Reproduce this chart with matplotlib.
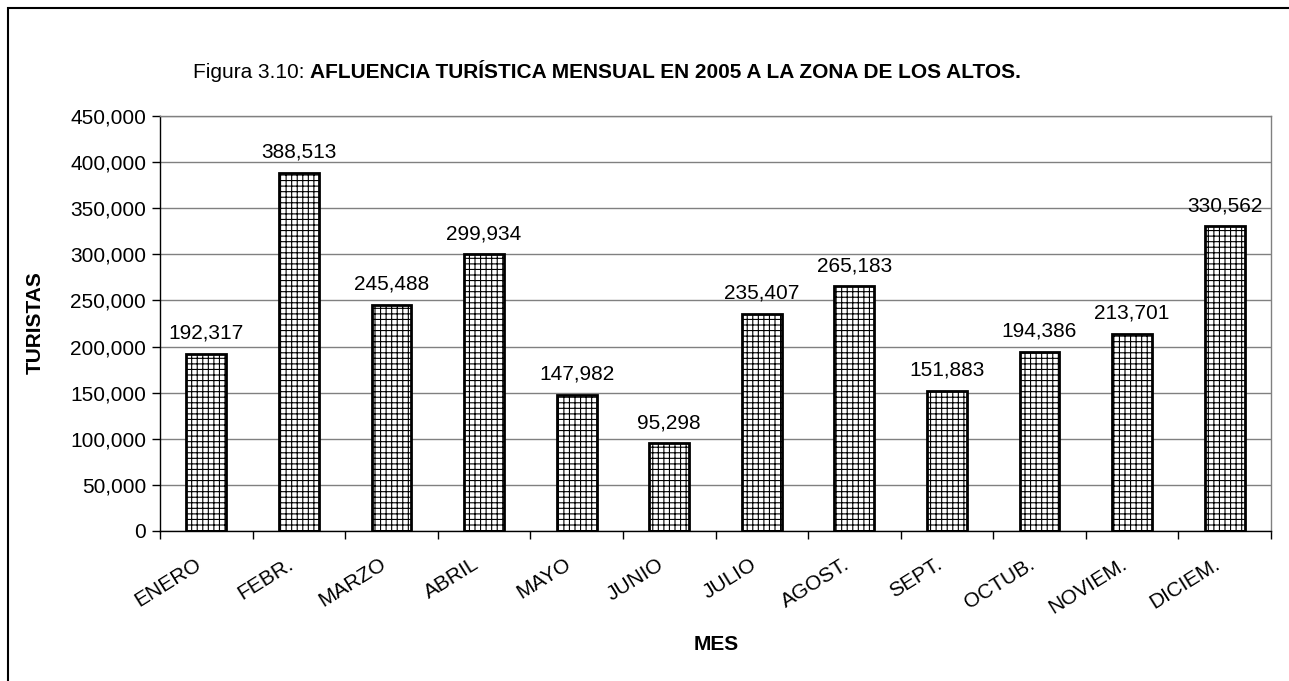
import matplotlib
matplotlib.use("Agg")
import matplotlib.pyplot as plt
from matplotlib.patches import Rectangle
from matplotlib.ticker import FuncFormatter
from matplotlib.transforms import ScaledTranslation
import numpy as np

months = ["ENERO", "FEBR.", "MARZO", "ABRIL", "MAYO", "JUNIO", "JULIO",
          "AGOST.", "SEPT.", "OCTUB.", "NOVIEM.", "DICIEM."]
tourists = [192317, 388513, 245488, 299934, 147982, 95298, 235407,
            265183, 151883, 194386, 213701, 330562]
y_ticks = [0, 50000, 100000, 150000, 200000, 250000, 300000, 350000, 400000, 450000]

plt.rcParams['font.family'] = ['Liberation Sans', 'DejaVu Sans']
plt.rcParams['hatch.linewidth'] = 0.8

FS = 15
W, H = 1289, 681
fig = plt.figure(figsize=(W / 100, H / 100), dpi=100)
L, R, T, B = 160, 1271, 116, 531
ax = fig.add_axes([L / W, 1 - B / H, (R - L) / W, (B - T) / H])

x = np.arange(len(months))
ax.bar(x, tourists, width=0.43, color='white', edgecolor='black',
       linewidth=2, hatch='+++', zorder=3)
for xi, v in zip(x, tourists):
    ax.annotate(f"{v:,}", (xi, v), xytext=(0, 8), textcoords='offset points',
                ha='center', va='bottom', fontsize=FS)

ax.set_xlim(-0.5, len(months) - 0.5)
ax.set_ylim(0, 450000)
ax.set_yticks(y_ticks)
ax.yaxis.set_major_formatter(FuncFormatter(lambda v, p: f"{int(v):,}"))
ax.tick_params(axis='y', direction='out', length=6, width=1, labelsize=FS, pad=4)
ax.grid(axis='y', color='#808080', linewidth=1, zorder=0)

ax.set_xticks(x)
ax.set_xticklabels(months, rotation=32, ha='right', rotation_mode='anchor', fontsize=FS)
ax.tick_params(axis='x', which='major', length=0, pad=17)
ax.set_xticks(np.arange(len(months) + 1) - 0.5, minor=True)
ax.tick_params(axis='x', which='minor', direction='out', length=6, width=1)
shift = ScaledTranslation(-12 / 100, 0, fig.dpi_scale_trans)
for lbl in ax.get_xticklabels():
    lbl.set_transform(lbl.get_transform() + shift)

for s in ['top', 'right']:
    ax.spines[s].set_color('#808080')
    ax.spines[s].set_linewidth(1)
for s in ['left', 'bottom']:
    ax.spines[s].set_color('black')
    ax.spines[s].set_linewidth(1)

ax.set_ylabel("TURISTAS", fontsize=FS, fontweight='bold')
ax.yaxis.set_label_coords(-(L - 45) / (R - L), (B - 323) / (B - T))
ax.set_xlabel("MES", fontsize=FS, fontweight='bold')
ax.xaxis.set_label_coords((716 - L) / (R - L), -(645 - B) / (B - T))
ax.xaxis.label.set_va('center')

t1 = fig.text(193 / W, 1 - 72 / H, "Figura 3.10: ", ha='left', va='center', fontsize=FS)
ax.annotate("AFLUENCIA TURÍSTICA MENSUAL EN 2005 A LA ZONA DE LOS ALTOS.",
            xy=(1, 0), xycoords=t1, ha='left', va='bottom', fontsize=FS,
            fontweight='bold', annotation_clip=False)

fig.add_artist(Rectangle((8 / W, -0.05), 1.1, 1 - 8 / H + 0.05, transform=fig.transFigure,
                         fill=False, edgecolor='black', linewidth=1.5))

fig.savefig("out.png", dpi=100)
